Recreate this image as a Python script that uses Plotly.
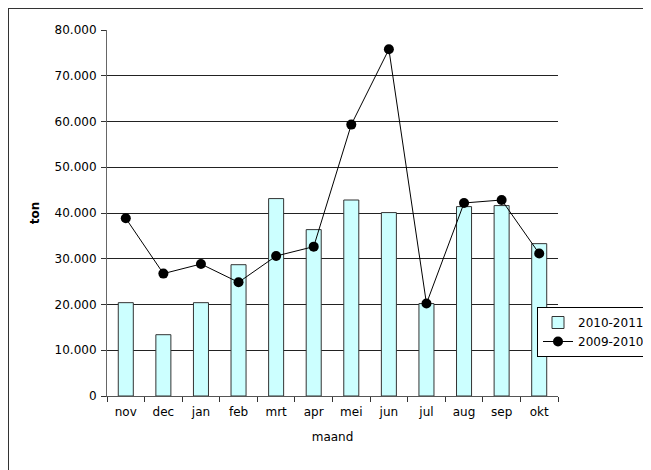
import plotly.graph_objects as go

months = ["nov", "dec", "jan", "feb", "mrt", "apr", "mei", "jun", "jul", "aug", "sep", "okt"]
s_2010_2011 = [20400, 13400, 20400, 28700, 43150, 36370, 42840, 40090, 20200, 41400, 41620, 33300]
s_2009_2010 = [38840, 26750, 28850, 24850, 30600, 32650, 59320, 75780, 20200, 42190, 42840, 31130]
y_ticks = [0, 10000, 20000, 30000, 40000, 50000, 60000, 70000, 80000]

FONT = "DejaVu Sans"
OFF = 8  # page body margin offset

W, H = 651, 470
# target plot area in page coords: x 107..558, y 30..396
L = 107 - OFF
R = W - (558 - OFF)
T = 30 - OFF
B = H - (396 - OFF)
pw, ph = W - L - R, H - T - B

def px(x):
    return (x - OFF - L) / pw

def py(y):
    return (H - B - (y - OFF)) / ph

fig = go.Figure()
fig.add_trace(go.Bar(
    x=months, y=s_2010_2011, name="2010-2011",
    marker=dict(color="#CCFFFF", line=dict(color="#333333", width=1)),
    width=0.4,
))
fig.add_trace(go.Scatter(
    x=months, y=s_2009_2010, name="2009-2010", mode="lines+markers",
    line=dict(color="black", width=1),
    marker=dict(color="black", size=10),
))

fig.update_layout(
    width=W, height=H,
    margin=dict(l=L, r=R, t=T, b=B, pad=0, autoexpand=False),
    paper_bgcolor="white", plot_bgcolor="white",
    separators=",.",
    font=dict(family=FONT, size=12, color="black"),
    showlegend=True,
    legend=dict(
        x=px(537), y=py(307), xanchor="left", yanchor="top",
        bordercolor="black", borderwidth=1, bgcolor="white",
        font=dict(family=FONT, size=12),
        tracegroupgap=0, itemwidth=30,
    ),
    shapes=[dict(
        type="rect", xref="paper", yref="paper",
        x0=px(8), x1=px(700), y0=py(700), y1=py(8),
        line=dict(color="#333333", width=2), layer="below",
    )],
)

fig.update_xaxes(
    title=dict(text="maand", font=dict(family=FONT, size=12), standoff=14),
    range=[-0.5, len(months) - 0.5], autorange=False,
    showline=True, linecolor="#555555", linewidth=1,
    ticks="outside", tickson="boundaries", ticklen=5, tickcolor="#333333",
    ticklabelstandoff=5,
    showgrid=False,
    tickfont=dict(family=FONT, size=12),
)
fig.update_yaxes(
    title=dict(text="<b>ton</b>", font=dict(family=FONT, size=12), standoff=12),
    range=[0, 80000], tickvals=y_ticks, tickformat=",d",
    showline=True, linecolor="#666666", linewidth=1,
    ticks="outside", ticklen=5, tickcolor="#333333",
    ticklabelstandoff=2,
    showgrid=True, gridcolor="#222222", gridwidth=1,
    zeroline=False,
    tickfont=dict(family=FONT, size=12),
)

fig.write_html("out.html")
